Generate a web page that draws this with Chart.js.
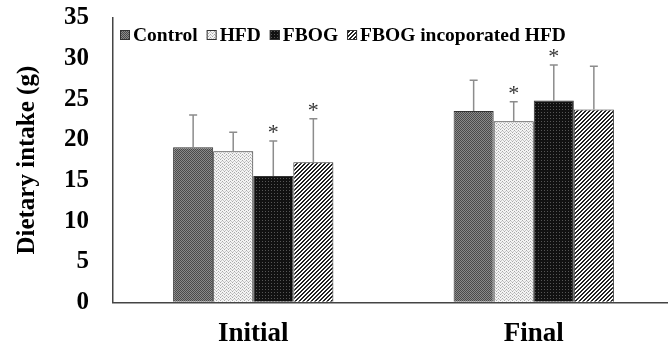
<!DOCTYPE html>
<html>
<head>
<meta charset="utf-8">
<script src="https://cdn.jsdelivr.net/npm/chart.js@4.4.1/dist/chart.umd.min.js"></script>
<style>
html,body{margin:0;padding:0;background:#fff;overflow:hidden;}
#wrap{position:relative;width:674px;height:349px;}
</style>
</head>
<body>
<div id="wrap"><canvas id="c"></canvas></div>
<script>
const categories = ['Initial', 'Final'];
const seriesNames = ['Control', 'HFD', 'FBOG', 'FBOG incoporated HFD'];
const control = [19.1, 23.55];
const controlSd = [3.95, 3.8];
const hfd = [18.6, 22.3];
const hfdSd = [2.35, 2.4];
const fbog = [15.55, 24.85];
const fbogSd = [4.3, 4.35];
const fbogHfd = [17.25, 23.75];
const fbogHfdSd = [5.35, 5.3];
const sigControl = [false, false];
const sigHfd = [false, true];
const sigFbog = [true, true];
const sigFbogHfd = [true, false];
const yTicks = [0, 5, 10, 15, 20, 25, 30, 35];

const FONT = '"Liberation Serif", "Times New Roman", serif';

function makePattern(kind) {
  const c = document.createElement('canvas');
  const ctx = c.getContext('2d');
  if (kind === 'control') {
    c.width = 2; c.height = 2;
    ctx.fillStyle = '#8a8a8a'; ctx.fillRect(0, 0, 2, 2);
    ctx.fillStyle = '#4a4a4a'; ctx.fillRect(0, 0, 1, 1); ctx.fillRect(1, 1, 1, 1);
  } else if (kind === 'hfd') {
    c.width = 4; c.height = 3;
    ctx.fillStyle = '#f4f4f4'; ctx.fillRect(0, 0, 4, 3);
    ctx.fillStyle = '#a8a8a8'; ctx.fillRect(0, 0, 1, 1); ctx.fillRect(2, 1, 1, 1);
    ctx.fillStyle = '#c8c8c8'; ctx.fillRect(1, 2, 1, 1); ctx.fillRect(3, 2, 1, 1);
  } else if (kind === 'fbog') {
    c.width = 3; c.height = 3;
    ctx.fillStyle = '#111111'; ctx.fillRect(0, 0, 3, 3);
    ctx.fillStyle = '#555555'; ctx.fillRect(1, 1, 1, 1);
  } else {
    c.width = 4; c.height = 4;
    ctx.fillStyle = '#ffffff'; ctx.fillRect(0, 0, 4, 4);
    ctx.fillStyle = '#222222';
    for (let i = 0; i < 4; i++) {
      ctx.fillRect((3 - i + 4) % 4, i, 1, 1);
      ctx.fillRect((4 - i + 4) % 4, i, 1, 1);
    }
  }
  return document.createElement('canvas').getContext('2d').createPattern(c, 'repeat');
}

const patterns = [makePattern('control'), makePattern('hfd'), makePattern('fbog'), makePattern('hatch')];
const values = [control, hfd, fbog, fbogHfd];
const sds = [controlSd, hfdSd, fbogSd, fbogHfdSd];
const sigs = [sigControl, sigHfd, sigFbog, sigFbogHfd];

const datasets = seriesNames.map((name, i) => ({
  label: name,
  data: values[i],
  sd: sds[i],
  sig: sigs[i],
  backgroundColor: patterns[i],
  borderColor: '#333333',
  borderWidth: 1,
  borderSkipped: 'bottom',
  categoryPercentage: 160 / 280,
  barPercentage: 1.0
}));

const errorBars = {
  id: 'errorBars',
  afterDatasetsDraw(chart) {
    const ctx = chart.ctx;
    const y = chart.scales.y;
    ctx.save();
    chart.data.datasets.forEach((ds, di) => {
      const meta = chart.getDatasetMeta(di);
      meta.data.forEach((el, j) => {
        const top = y.getPixelForValue(ds.data[j] + ds.sd[j]);
        ctx.strokeStyle = '#8c8c8c';
        ctx.lineWidth = 1.5;
        ctx.beginPath();
        ctx.moveTo(el.x, el.y);
        ctx.lineTo(el.x, top);
        ctx.moveTo(el.x - 4, top);
        ctx.lineTo(el.x + 4, top);
        ctx.stroke();
        if (ds.sig[j]) {
          ctx.fillStyle = '#333333';
          ctx.font = '22px ' + FONT;
          ctx.textAlign = 'center';
          ctx.textBaseline = 'alphabetic';
          ctx.fillText('*', el.x, top - 2);
        }
      });
    });
    ctx.restore();
  }
};

const legendBox = {
  id: 'legendBox',
  afterDraw(chart) {
    const ctx = chart.ctx;
    const a = chart.chartArea;
    ctx.save();
    ctx.font = 'bold 19.5px ' + FONT;
    ctx.textBaseline = 'alphabetic';
    ctx.textAlign = 'left';
    let x = a.left + 7;
    const yb = a.top + 12;
    chart.data.datasets.forEach((ds, i) => {
      ctx.fillStyle = ds.backgroundColor;
      ctx.fillRect(x, yb, 10, 10);
      ctx.strokeStyle = '#333';
      ctx.lineWidth = 1;
      ctx.strokeRect(x + 0.5, yb + 0.5, 9, 9);
      ctx.fillStyle = '#000';
      ctx.fillText(ds.label, x + 13, yb + 11);
      x += 13 + ctx.measureText(ds.label).width + 9;
    });
    ctx.restore();
  }
};

new Chart(document.getElementById('c'), {
  type: 'bar',
  data: { labels: categories, datasets },
  plugins: [errorBars, legendBox],
  options: {
    responsive: true,
    maintainAspectRatio: false,
    animation: false,
    layout: { padding: { left: 13, right: 0, top: 0, bottom: -17 } },
    plugins: { legend: { display: false }, tooltip: { enabled: false } },
    scales: {
      x: {
        grid: { display: false, drawTicks: false },
        border: { display: true, color: '#444', width: 1.5 },
        ticks: { color: '#000', font: { family: FONT, size: 27, weight: 'bold', lineHeight: 1.1 }, padding: 17 }
      },
      y: {
        min: 0,
        max: 35,
        afterBuildTicks(scale) { scale.ticks = yTicks.map(v => ({ value: v })); },
        grid: { display: true, drawOnChartArea: false, drawTicks: true, tickLength: 21, color: 'rgba(0,0,0,0)' },
        border: { display: true, color: '#444', width: 1.5 },
        ticks: { color: '#000', font: { family: FONT, size: 25, weight: 'bold' }, padding: 3 },
        title: {
          display: true,
          text: 'Dietary intake (g)',
          color: '#000',
          font: { family: FONT, size: 25, weight: 'bold' },
          padding: { top: 0, bottom: 18 }
        }
      }
    }
  }
});
</script>
</body>
</html>
